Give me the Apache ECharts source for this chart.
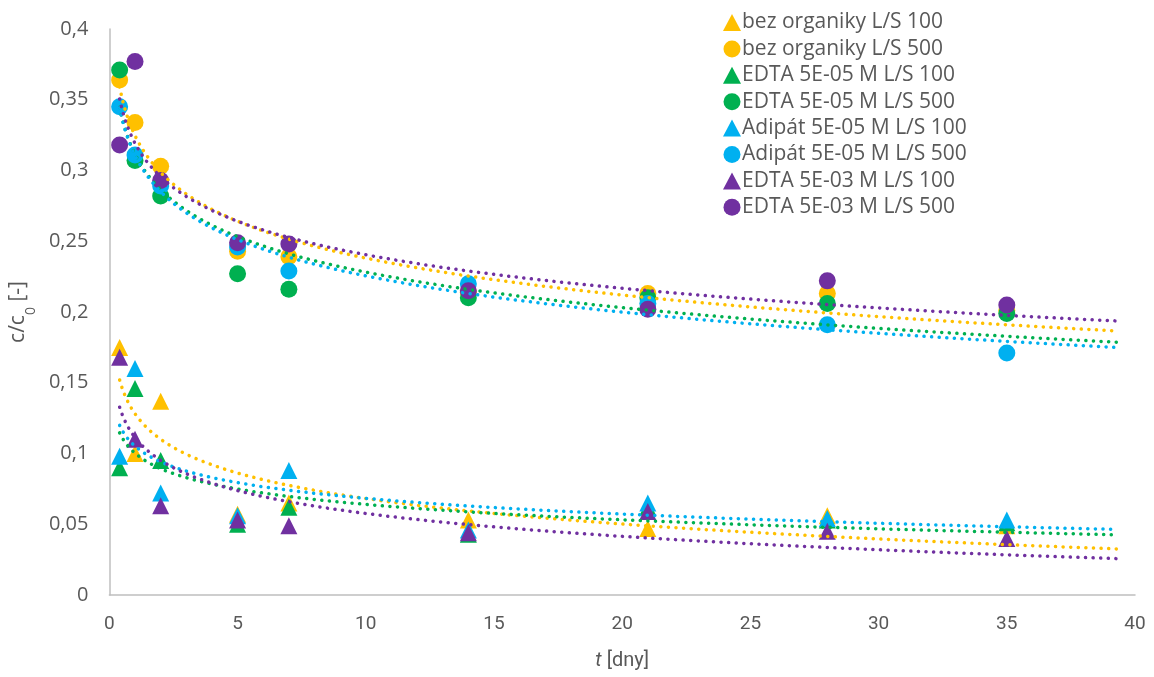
<!DOCTYPE html>
<html><head><meta charset="utf-8">
<script src="https://cdn.jsdelivr.net/npm/echarts@6/dist/echarts.min.js"></script>
<style>html,body{margin:0;padding:0;background:#fff}#c{width:1154px;height:677px}</style>
</head><body><div id="c"></div>
<script>
const times = [0.4, 1, 2, 5, 7, 14, 21, 28, 35];
const xTicks = [0, 5, 10, 15, 20, 25, 30, 35, 40];
const yTicks = [0, 0.05, 0.1, 0.15, 0.2, 0.25, 0.3, 0.35, 0.4];

const bez100   = [0.175, 0.100, 0.137, 0.057, 0.065, 0.053, 0.047, 0.056, 0.049];
const bez500   = [0.364, 0.334, 0.303, 0.243, 0.239, 0.214, 0.213, 0.213, 0.201];
const edta5_100 = [0.090, 0.146, 0.095, 0.050, 0.062, 0.043, 0.062, 0.053, 0.051];
const edta5_500 = [0.371, 0.307, 0.282, 0.227, 0.216, 0.210, 0.210, 0.206, 0.199];
const adip100  = [0.098, 0.160, 0.072, 0.056, 0.088, 0.046, 0.065, 0.054, 0.053];
const adip500  = [0.345, 0.311, 0.289, 0.246, 0.229, 0.220, 0.206, 0.191, 0.171];
const edta3_100 = [0.168, 0.110, 0.063, 0.053, 0.049, 0.044, 0.059, 0.045, 0.040];
const edta3_500 = [0.318, 0.377, 0.293, 0.249, 0.248, 0.215, 0.202, 0.222, 0.205];

const names = ['bez organiky L/S 100','bez organiky L/S 500','EDTA 5E-05 M L/S 100','EDTA 5E-05 M L/S 500',
  'Adipát 5E-05 M L/S 100','Adipát 5E-05 M L/S 500','EDTA 5E-03 M L/S 100','EDTA 5E-03 M L/S 500'];
const values = [bez100, bez500, edta5_100, edta5_500, adip100, adip500, edta3_100, edta3_500];
const colors = ['#FFC000','#FFC000','#00B050','#00B050','#00B0F0','#00B0F0','#7030A0','#7030A0'];
const symbols = ['triangle','circle','triangle','circle','triangle','circle','triangle','circle'];

// logarithmic least-squares trendline (as Excel "Logarithmic" trendline)
function logFit(ts, ys){
  const xs = ts.map(Math.log);
  const n = xs.length;
  const mx = xs.reduce((a,b)=>a+b,0)/n, my = ys.reduce((a,b)=>a+b,0)/n;
  let sxy=0, sxx=0;
  for(let i=0;i<n;i++){ sxy += (xs[i]-mx)*(ys[i]-my); sxx += (xs[i]-mx)*(xs[i]-mx); }
  const b = sxy/sxx, a = my - b*mx;
  const pts = [];
  const t0 = ts[0], t1 = 39.3;
  const N = 120;
  for(let k=0;k<=N;k++){
    const t = t0*Math.pow(t1/t0, k/N);
    pts.push([t, a + b*Math.log(t)]);
  }
  return pts;
}

const series = [];
values.forEach((v,i)=>{
  series.push({
    name: names[i], type:'scatter', symbol: symbols[i],
    symbolSize: 17,
    itemStyle:{color: colors[i], opacity:1},
    data: times.map((t,j)=>[t, v[j]]), z: 2
  });
});
values.forEach((v,i)=>{
  series.push({
    name: names[i]+' trend', type:'line', showSymbol:false, symbol:'none',
    data: logFit(times, v), silent:true, z: 3,
    lineStyle:{color: colors[i], width:3.5, type:[0.1, 7.5], cap:'round'}
  });
});

const chart = echarts.init(document.getElementById('c'), null, {renderer:'canvas'});
chart.setOption({
  animation:false,
  backgroundColor:'#fff',
  grid:{left:109, right:19, top:29, bottom:82, containLabel:false},
  legend:{
    orient:'vertical', left:718, top:7, itemGap:5.4, itemWidth:18, itemHeight:17,
    textStyle:{color:'#595959', fontSize:21, fontFamily:'Open Sans', padding:[0,0,0,-4]},
    data: names.map((n,i)=>({name:n, icon:symbols[i], itemStyle:{color:colors[i]}}))
  },
  xAxis:{
    type:'value', min:xTicks[0], max:xTicks[xTicks.length-1], interval:5,
    name:'{i|t} [dny]', nameLocation:'middle', nameGap:56,
    nameTextStyle:{color:'#595959', fontSize:20, fontFamily:'Roboto',
      rich:{i:{fontStyle:'italic', fontSize:20, color:'#595959', fontFamily:'Roboto'}}},
    axisLine:{show:true, lineStyle:{color:'#BFBFBF', width:1.5}},
    axisTick:{show:false}, splitLine:{show:false},
    axisLabel:{color:'#595959', fontSize:19, fontFamily:'Roboto', margin:20}
  },
  yAxis:{
    type:'value', min:yTicks[0], max:yTicks[yTicks.length-1], interval:0.05,
    name:'c/c{s|0} [-]', nameLocation:'middle', nameGap:76, nameRotate:90,
    nameTextStyle:{color:'#595959', fontSize:21, fontFamily:'Open Sans',
      rich:{s:{fontSize:14, color:'#595959', fontFamily:'Open Sans', verticalAlign:'bottom', padding:[0,0,-9,0]}}},
    axisLine:{show:true, lineStyle:{color:'#BFBFBF', width:1.5}},
    axisTick:{show:false}, splitLine:{show:false},
    axisLabel:{color:'#595959', fontSize:20, fontFamily:'Open Sans', margin:21,
      formatter: v => String(Math.round(v*100)/100).replace('.', ',')}
  },
  series
});
</script></body></html>
